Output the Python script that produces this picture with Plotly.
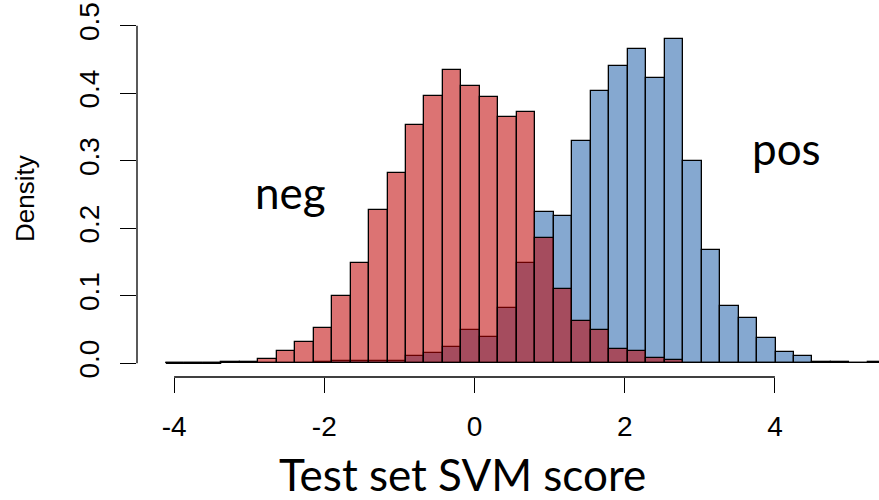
import plotly.graph_objects as go

# ---- data (density per bin) ----
bin_start = -4.11
bin_width = 0.246
neg_density = [0, 0, 0, 0.002, 0.002, 0.006, 0.018, 0.031, 0.053, 0.099,
               0.149, 0.227, 0.282, 0.353, 0.396, 0.434, 0.411, 0.395, 0.365, 0.372,
               0.186, 0.110, 0.062, 0.049, 0.021, 0.0185, 0.008, 0.005, 0.001, 0,
               0, 0, 0, 0, 0, 0, 0, 0, 0]
pos_density = [0, 0, 0, 0, 0, 0.001, 0.001, 0.001, 0.002, 0.003,
               0.003, 0.003, 0.003, 0.011, 0.016, 0.024, 0.049, 0.039, 0.082, 0.149,
               0.224, 0.218, 0.330, 0.404, 0.441, 0.466, 0.423, 0.481, 0.299, 0.168,
               0.085, 0.067, 0.037, 0.017, 0.0115, 0.002, 0.002, 0, 0.002]
x_ticks = [-4, -2, 0, 2, 4]
y_ticks = [0.0, 0.1, 0.2, 0.3, 0.4, 0.5]
y_tick_text = ["0.0", "0.1", "0.2", "0.3", "0.4", "0.5"]

centers = [bin_start + bin_width * (i + 0.5) for i in range(len(neg_density))]

fig = go.Figure()
fig.add_trace(go.Bar(x=centers, y=pos_density, width=bin_width,
                     marker=dict(color="rgb(133,168,208)", line=dict(color="black", width=1.3)),
                     name="pos", showlegend=False, hoverinfo="skip"))
fig.add_trace(go.Bar(x=centers, y=neg_density, width=bin_width,
                     marker=dict(color="rgba(191,0,0,0.55)", line=dict(color="black", width=1.3)),
                     name="neg", showlegend=False, hoverinfo="skip"))

tick_font = dict(family="Liberation Sans Narrow, Arial Narrow, Liberation Sans, Arial", size=28, color="black")
label_font = "Lato, Calibri, Carlito, sans-serif"

fig.update_layout(
    width=879, height=500,
    margin=dict(l=137, r=0, t=0, b=123),
    paper_bgcolor="white", plot_bgcolor="white",
    barmode="overlay", bargap=0,
    xaxis=dict(range=[-4.494, 5.386], showgrid=False, zeroline=False, showline=False,
               tickmode="array", tickvals=x_ticks, ticktext=[str(v) for v in x_ticks],
               ticks="outside", ticklen=15, tickwidth=1.3, tickcolor="black",
               tickfont=tick_font, ticklabelstandoff=9),
    yaxis=dict(range=[-0.0203, 0.5382], showgrid=False, zeroline=False, showline=False,
               tickmode="array", tickvals=y_ticks, ticktext=y_tick_text,
               ticks="outside", ticklen=16, tickwidth=1.3, tickcolor="black",
               tickfont=tick_font, tickangle=-90, ticklabelstandoff=10),
    shapes=[
        dict(type="line", xref="x", yref="paper", x0=x_ticks[0], x1=x_ticks[-1], y0=0, y1=0,
             line=dict(color="black", width=1.3)),
        dict(type="line", xref="paper", yref="y", x0=0, x1=0, y0=y_ticks[0], y1=y_ticks[-1],
             line=dict(color="black", width=1.3)),
        dict(type="line", xref="x", yref="y", x0=bin_start, x1=bin_start + 3 * bin_width, y0=0, y1=0,
             line=dict(color="black", width=1.3)),
    ],
    annotations=[
        dict(text="neg", xref="paper", yref="paper", x=(290.5 - 137) / 742, y=1 - 192 / 377,
             showarrow=False, xanchor="center", yanchor="middle",
             font=dict(family=label_font, size=44, color="black")),
        dict(text="pos", xref="paper", yref="paper", x=(786 - 137) / 742, y=1 - 148 / 377,
             showarrow=False, xanchor="center", yanchor="middle",
             font=dict(family=label_font, size=44, color="black")),
        dict(text="Test set SVM score", xref="paper", yref="paper", x=(462 - 137) / 742, y=1 - 474 / 377,
             showarrow=False, xanchor="center", yanchor="middle",
             font=dict(family=label_font, size=44, color="black")),
        dict(text="Density", xref="paper", yref="paper", x=(25 - 137) / 742, y=1 - 199 / 377,
             showarrow=False, xanchor="center", yanchor="middle", textangle=-90,
             font=dict(family="Liberation Sans, Arial", size=26, color="black")),
    ],
)

fig.write_html("out.html")
